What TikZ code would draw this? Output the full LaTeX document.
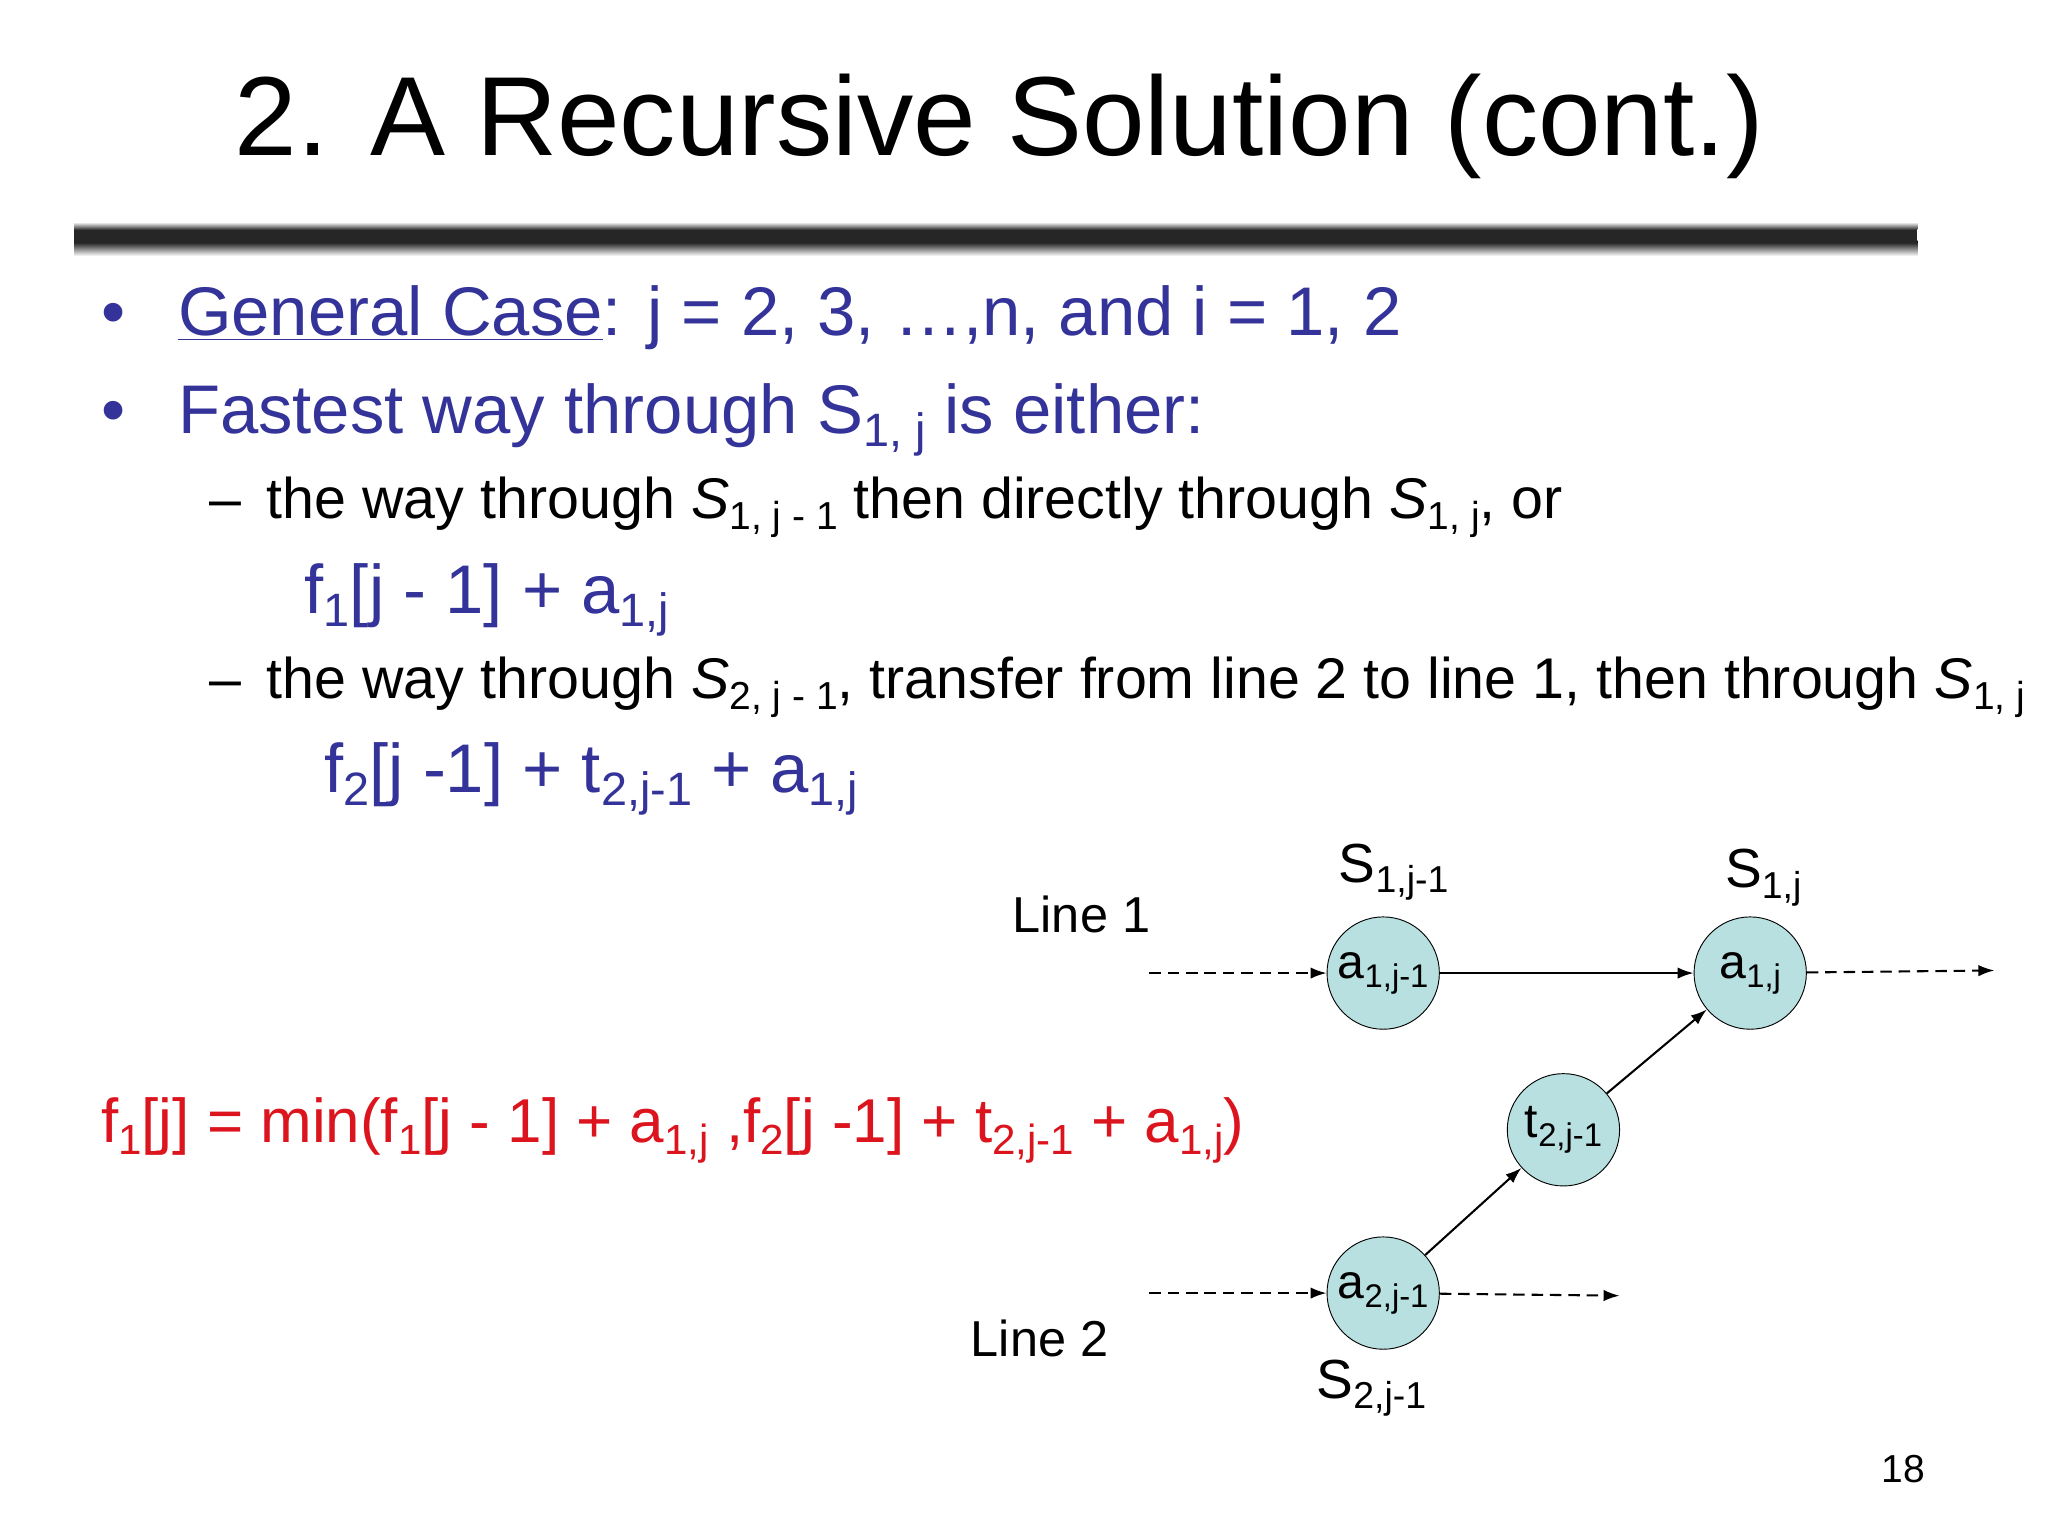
\documentclass[tikz,border=0pt]{standalone}
\usepackage{fontspec}
\setmainfont{Liberation Sans}
\usetikzlibrary{arrows.meta}
\definecolor{tblue}{RGB}{51,51,153}
\definecolor{tred}{RGB}{220,20,30}
\definecolor{cfill}{RGB}{184,224,224}
\newcommand\dn[1]{\raisebox{-0.35ex}{\scalebox{0.68}{#1}}}
\newcommand\fs[1]{\fontsize{#1}{#1}\selectfont}
\tikzset{
 st/.style={circle,draw=black,fill=cfill,minimum size=86*0.02cm,inner sep=0pt,font=\fs{21pt}},
 lbl/.style={anchor=base west,inner sep=0pt},
 ar/.style={-{Latex[length=7pt,width=5pt]},line width=0.9pt},
 da/.style={ar,dashed,dash pattern=on 5pt off 3pt}
}
\begin{document}
\begin{tikzpicture}[x=0.02cm,y=-0.02cm]
\useasboundingbox (0,0) rectangle (1568,1176);
\fill[white] (0,0) rectangle (1568,1176);
\node[inner sep=0pt] (title) at (765,97) {\fs{49pt}2. A Recursive Solution (cont.)};
\shade[top color=black,bottom color=white] (57,184) rectangle (1468,196);
\fill[black!85] (57,175) rectangle (1468,186);
\shade[top color=white,bottom color=black!85] (57,170) rectangle (1468,176);
\node[lbl,text=tblue,font=\fs{30pt}] (b1) at (77,257) {•};
\node[lbl,text=tblue,font=\fs{30pt}] (g) at (136,257) {\underline{General Case}: j = 2, 3, …,n, and i = 1, 2};
\node[lbl,text=tblue,font=\fs{30pt}] (b2) at (77,332) {•};
\node[lbl,text=tblue,font=\fs{30pt}] (f) at (136,332) {Fastest way through S\dn{1, j} is either:};
\node[lbl,font=\fs{25pt}] (d1) at (160,397) {–};
\node[lbl,font=\fs{25pt}] (s1) at (204,397) {the way through \textit{S}\dn{1, j - 1} then directly through \textit{S}\dn{1, j}, or};
\node[lbl,text=tblue,font=\fs{30pt}] (e1) at (233,470) {f\dn{1}[j - 1] + a\dn{1,j}};
\node[lbl,font=\fs{25pt}] (d2) at (160,535) {–};
\node[lbl,font=\fs{25pt}] (s2) at (204,535) {the way through \textit{S}\dn{2, j - 1}, transfer from line 2 to line 1, then through \textit{S}\dn{1, j}};
\node[lbl,text=tblue,font=\fs{30pt}] (e2) at (248,607) {f\dn{2}[j -1] + t\dn{2,j-1} + a\dn{1,j}};
\node[lbl,text=tred,font=\fs{27pt}] (r) at (77,875) {f\dn{1}[j] = min(f\dn{1}[j - 1] + a\dn{1,j} ,f\dn{2}[j -1] + t\dn{2,j-1} + a\dn{1,j})};
\node[st] (a11) at (1059,745) {a\dn{1,j-1}};
\node[st] (a1) at (1340,745) {a\dn{1,j}};
\node[st] (t) at (1197,865) {t\dn{2,j-1}};
\node[st] (a21) at (1059,990) {a\dn{2,j-1}};
\coordinate (in1) at (880,745);
\coordinate (out1) at (1527,743);
\coordinate (in2) at (880,990);
\coordinate (out2) at (1240,992);
\draw[da] (in1) -- (a11);
\draw[ar] (a11) -- (a1);
\draw[da] (a1) -- (out1);
\draw[da] (in2) -- (a21);
\draw[da] (a21) -- (out2);
\draw[ar] (a21) -- (t);
\draw[ar] (t) -- (a1);
\node[font=\fs{24pt}] (l1) at (1067,668) {S\dn{1,j-1}};
\node[font=\fs{24pt}] (l2) at (1350,672) {S\dn{1,j}};
\node[font=\fs{24pt}] (l3) at (1050,1063) {S\dn{2,j-1}};
\node[font=\fs{22pt}] (line1) at (828,700) {Line 1};
\node[font=\fs{22pt}] (line2) at (796,1025) {Line 2};
\node[font=\fs{17pt}] (pg) at (1457,1125) {18};
\end{tikzpicture}
\end{document}
